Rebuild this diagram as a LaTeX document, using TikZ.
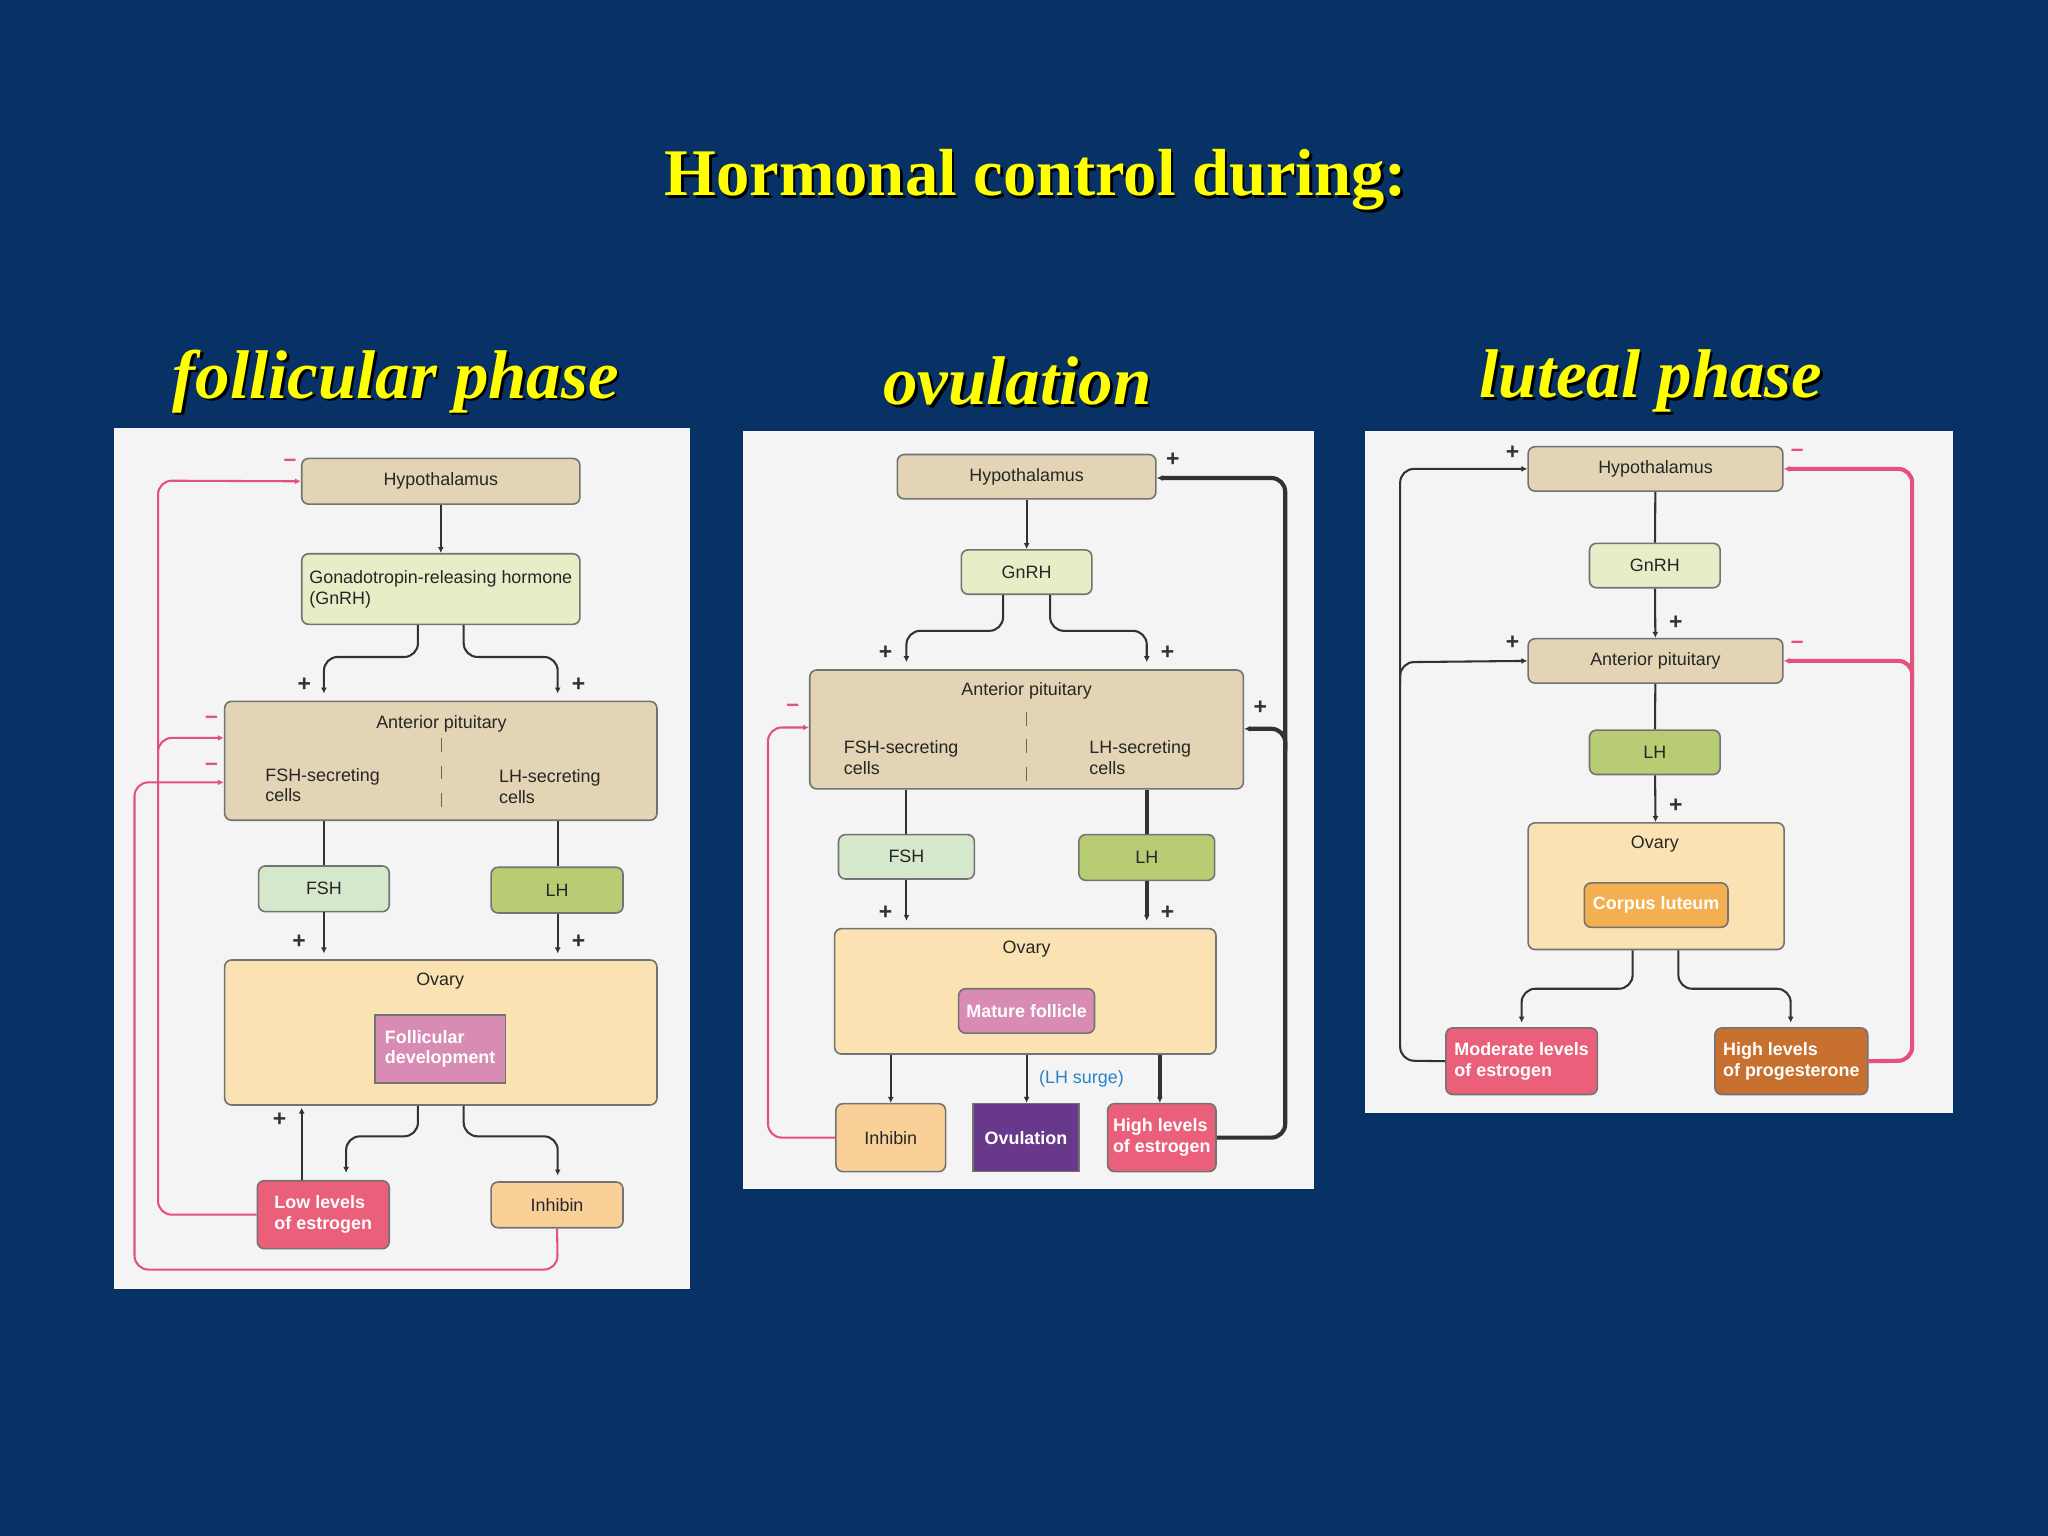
\documentclass[tikz,border=0pt]{standalone}
\usepackage{fontspec}
\setmainfont{Liberation Sans}
\newfontfamily\ttl{Liberation Serif}
\definecolor{bg}{RGB}{8,50,102}
\definecolor{pan}{RGB}{244,244,244}
\definecolor{tan}{RGB}{226,212,180}
\definecolor{lgr}{RGB}{230,238,200}
\definecolor{fgr}{RGB}{214,232,204}
\definecolor{oli}{RGB}{184,204,116}
\definecolor{ova}{RGB}{250,226,178}
\definecolor{fol}{RGB}{216,140,180}
\definecolor{est}{RGB}{234,96,122}
\definecolor{inh}{RGB}{248,208,152}
\definecolor{pur}{RGB}{104,56,138}
\definecolor{cor}{RGB}{244,176,80}
\definecolor{pro}{RGB}{200,112,48}
\definecolor{pk}{RGB}{226,82,124}
\definecolor{dk}{RGB}{50,50,50}
\definecolor{ttlc}{RGB}{255,255,0}
\definecolor{lhs}{RGB}{40,130,200}
\tikzset{
 box/.style={draw=black!55,line width=0.35pt,rounded corners=1.5pt,inner sep=1pt,font=\fontsize{3.9pt}{4.5pt}\selectfont,text=black!85},
 wt/.style={text=white,font=\fontsize{3.9pt}{4.5pt}\selectfont\bfseries},
 lab/.style={font=\fontsize{3.9pt}{4.5pt}\selectfont,text=black!85,inner sep=0pt},
 ar/.style={draw=dk,line width=0.45pt,rounded corners=3pt,-{Latex[length=1.3pt,width=1.3pt]}},
 ln/.style={draw=dk,line width=0.45pt,rounded corners=3pt},
 th/.style={line width=0.9pt},
 pa/.style={draw=pk,line width=0.45pt,rounded corners=3pt,-{Latex[length=1.3pt,width=1.3pt]}},
 sg/.style={font=\fontsize{5pt}{5pt}\selectfont\bfseries,inner sep=0pt},
 hd/.style={font=\ttl\bfseries\itshape\fontsize{15pt}{15pt}\selectfont,text=ttlc},
}
\usetikzlibrary{arrows.meta}
\newcommand\bx[8][]{\node[box,fill=#7,minimum width={(#4-#2)*0.01cm},minimum height={(#5-#3)*0.01cm},#1] (#6) at ({(#2+#4)/2},{(#3+#5)/2}) {#8};}
\newcommand\sgn[5]{\node[sg,text=#5] (#1) at (#2,#3) {#4};}
\newcommand\hdr[4]{\node[hd,text=black] (#1s) at (#2+2,#3+2) {#4};\node[hd] (#1) at (#2,#3) {#4};}
\begin{document}
\begin{tikzpicture}[x=0.01cm,y=-0.01cm]
\fill[bg] (0,0) rectangle (1568,1176);
\useasboundingbox (0,0) rectangle (1568,1176);
\node[font=\ttl\bfseries\fontsize{14.5pt}{15pt}\selectfont,text=black] (ts) at (795,140) {Hormonal control during:};
\node[font=\ttl\bfseries\fontsize{14.5pt}{15pt}\selectfont,text=ttlc] (t) at (793,138) {Hormonal control during:};
\hdr{h1}{303}{292}{follicular phase}
\hdr{h2}{779}{292}{ovulation}
\hdr{h3}{1264}{292}{luteal phase}
\fill[pan] (87,328) rectangle (528,987);
\fill[pan] (569,330) rectangle (1006,910);
\fill[pan] (1045,330) rectangle (1495,852);
% ---------- panel 1
\bx{231}{351}{444}{386}{a1}{tan}{Hypothalamus}
\bx[align=left]{231}{424}{444}{478}{b1}{lgr}{Gonadotropin-releasing hormone\\(GnRH)}
\bx{172}{537}{503}{628}{c1}{tan}{}
\node[lab] (c1t) at (338,554) {Anterior pituitary};
\draw[black!60,dashed,line width=0.3pt] (338,565) -- (338,628);
\node[lab,align=left] (c1l) at (247,601) {FSH-secreting\\cells};
\node[lab,align=left] (c1r) at (421,602) {LH-secreting\\cells};
\bx{198}{663}{298}{698}{d1}{fgr}{FSH}
\bx{376}{664}{477}{699}{e1}{oli}{LH}
\bx{172}{735}{503}{846}{f1}{ova}{}
\node[lab] (f1t) at (337,751) {Ovary};
\bx[wt,align=left,rounded corners=0pt]{287}{777}{387}{829}{g1}{fol}{Follicular\\development}
\bx[wt,align=left]{197}{904}{298}{956}{h1e}{est}{Low levels\\of estrogen}
\bx{376}{905}{477}{940}{i1}{inh}{Inhibin}
\draw[ar] (a1) -- (b1);
\draw[ar] (b1.south -| 320,0) -- (320,503) -- (248,503) -- (248,531);
\draw[ar] (b1.south -| 355,0) -- (355,503) -- (427,503) -- (427,531);
\sgn{p1a}{233}{524}{+}{dk}\sgn{p1b}{443}{524}{+}{dk}
\draw[ln] (c1.south -| 248,0) -- (d1.north -| 248,0);
\draw[ln] (c1.south -| 427,0) -- (e1.north -| 427,0);
\draw[ar] (d1.south -| 248,0) -- (248,730);
\draw[ar] (e1.south -| 427,0) -- (427,730);
\sgn{p1c}{229}{721}{+}{dk}\sgn{p1d}{443}{721}{+}{dk}
\draw[ar] (f1.south -| 320,0) -- (320,870) -- (265,870) -- (265,898);
\draw[ar] (f1.south -| 355,0) -- (355,870) -- (427,870) -- (427,900);
\draw[ar] (h1e.north -| 231,0) -- (231,848);
\sgn{p1e}{214}{857}{+}{dk}
\draw[pa] (h1e.west) -- (121,930) -- (121,368) -- (a1.west);
\draw[pa] (121,580) -- (121,565) -- (c1.west |- 0,565);
\draw[pa] (i1.south) -- (427,972) -- (103,972) -- (103,599) -- (c1.west |- 0,599);
\sgn{m1a}{222}{354}{--}{pk}\sgn{m1b}{162}{551}{--}{pk}\sgn{m1c}{162}{587}{--}{pk}
% ---------- panel 2
\bx{687}{348}{885}{382}{a2}{tan}{Hypothalamus}
\bx{736}{421}{836}{455}{b2}{lgr}{GnRH}
\bx{620}{513}{952}{604}{c2}{tan}{}
\node[lab] (c2t) at (786,529) {Anterior pituitary};
\draw[black!60,dashed,line width=0.3pt] (786,545) -- (786,604);
\node[lab,align=left] (c2l) at (690,580) {FSH-secreting\\cells};
\node[lab,align=left] (c2r) at (873,580) {LH-secreting\\cells};
\bx{642}{639}{746}{673}{d2}{fgr}{FSH}
\bx{826}{639}{930}{674}{e2}{oli}{LH}
\bx{639}{711}{931}{807}{f2}{ova}{}
\node[lab] (f2t) at (786,727) {Ovary};
\bx[wt]{734}{757}{838}{791}{g2}{fol}{Mature follicle}
\bx{640}{845}{724}{897}{i2}{inh}{Inhibin}
\bx[wt,rounded corners=0pt]{745}{845}{826}{897}{o2}{pur}{Ovulation}
\bx[wt,align=left]{848}{845}{931}{897}{h2}{est}{High levels\\of estrogen}
\draw[ar] (a2) -- (b2);
\draw[ar] (b2.south -| 768,0) -- (768,483) -- (694,483) -- (694,507);
\draw[ar] (b2.south -| 804,0) -- (804,483) -- (878,483) -- (878,507);
\sgn{p2a}{678}{500}{+}{dk}\sgn{p2b}{894}{500}{+}{dk}
\draw[ln] (c2.south -| 694,0) -- (d2.north -| 694,0);
\draw[ln,th] (c2.south -| 878,0) -- (e2.north -| 878,0);
\draw[ar] (d2.south -| 694,0) -- (694,705);
\draw[ar,th] (e2.south -| 878,0) -- (878,705);
\sgn{p2c}{678}{699}{+}{dk}\sgn{p2d}{894}{699}{+}{dk}
\draw[ar] (f2.south -| 682,0) -- (i2.north -| 682,0);
\draw[ar] (f2.south -| 786,0) -- (o2.north -| 786,0);
\draw[ar,th] (f2.south -| 888,0) -- (h2.north -| 888,0);
\node[lab,text=lhs] (lhs) at (828,826) {(LH surge)};
\draw[pa] (i2.west) -- (588,871) -- (588,557) -- (c2.west |- 0,557);
\draw[ar,th] (h2.east) -- (984,871) -- (984,366) -- (a2.east |- 0,366);
\draw[ar,th] (984,575) -- (984,558) -- (c2.east |- 0,558);
\sgn{m2a}{607}{542}{--}{pk}\sgn{p2e}{898}{352}{+}{dk}\sgn{p2f}{965}{542}{+}{dk}
% ---------- panel 3
\bx{1170}{342}{1365}{376}{a3}{tan}{Hypothalamus}
\bx{1217}{416}{1317}{450}{b3}{lgr}{GnRH}
\bx{1170}{489}{1365}{523}{c3}{tan}{Anterior pituitary}
\bx{1217}{559}{1317}{593}{d3}{oli}{LH}
\bx{1170}{630}{1366}{727}{f3}{ova}{}
\node[lab] (f3t) at (1267,646) {Ovary};
\bx[wt]{1213}{676}{1323}{710}{g3}{cor}{Corpus luteum}
\bx[wt,align=left]{1107}{787}{1223}{838}{h3}{est}{Moderate levels\\of estrogen}
\bx[wt,align=left]{1313}{787}{1430}{838}{k3}{pro}{High levels\\of progesterone}
\draw[ln] (a3) -- (b3);
\draw[ar] (b3) -- (c3);
\draw[ln] (c3) -- (d3);
\draw[ar] (d3) -- (f3);
\sgn{p3a}{1283}{477}{+}{dk}\sgn{p3b}{1283}{617}{+}{dk}
\draw[ar] (f3.south -| 1250,0) -- (1250,757) -- (1165,757) -- (1165,783);
\draw[ar] (f3.south -| 1285,0) -- (1285,757) -- (1371,757) -- (1371,783);
\draw[ar] (h3.west) -- (1072,812) -- (1072,359) -- (a3.west |- 0,359);
\draw[ar] (1072,525) -- (1072,507) -- (c3.west);
\draw[pa,line width=0.9pt] (k3.east) -- (1464,812) -- (1464,359) -- (a3.east |- 0,359);
\draw[pa,line width=0.9pt] (1464,525) -- (1464,506) -- (c3.east);
\sgn{p3c}{1158}{347}{+}{dk}\sgn{p3d}{1158}{492}{+}{dk}
\sgn{m3a}{1376}{347}{--}{pk}\sgn{m3b}{1376}{494}{--}{pk}
\end{tikzpicture}
\end{document}
